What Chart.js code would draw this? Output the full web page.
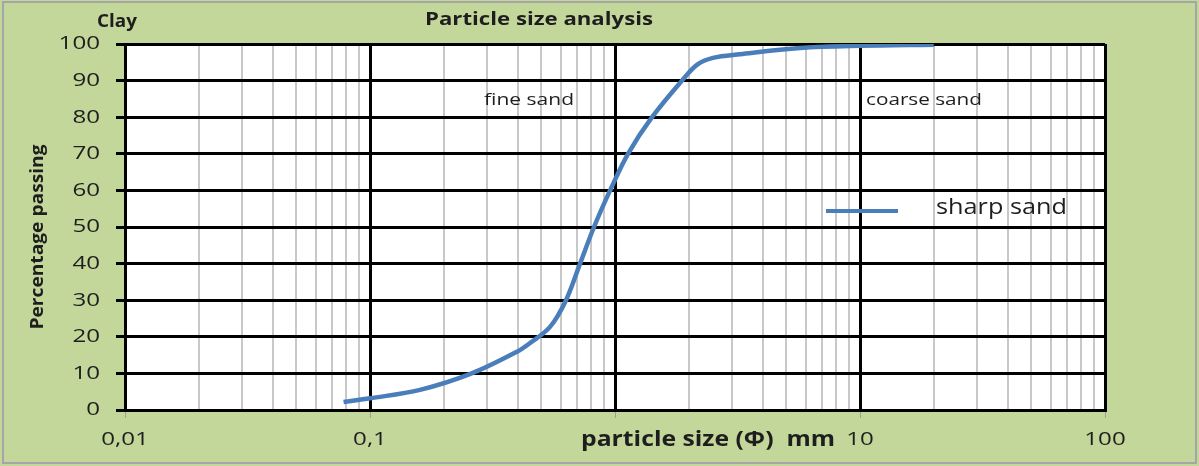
<!DOCTYPE html>
<html>
<head>
<meta charset="utf-8">
<script src="https://cdn.jsdelivr.net/npm/chart.js@4/dist/chart.umd.min.js"></script>
<style>
  html, body { margin: 0; padding: 0; background: #fff; }
  #wrap { width: 1199px; height: 466px; }
</style>
</head>
<body>
<div id="wrap"><canvas id="psd" width="1199" height="466"></canvas></div>
<script>
// sieve sizes (mm) and percentage passing for the sharp sand sample
const sizes = [0.078, 0.1, 0.16, 0.26, 0.4, 0.45, 0.543, 0.631, 0.72, 0.821, 0.955, 1.13, 1.416, 1.877, 2.16, 2.51, 3.24, 5.7, 10, 20];
const passing = [2.2, 3.2, 5.5, 10, 16, 18.3, 22.7, 30, 40, 50, 60, 70, 80, 90, 94.3, 96.2, 97.2, 98.9, 99.5, 99.8];

const seriesName = 'sharp sand';
const decades = [0.01, 0.1, 1, 10, 100];
const decadeLabels = ['0,01', '0,1', '', '10', '100'];
const yTicks = [0, 10, 20, 30, 40, 50, 60, 70, 80, 90, 100];

const FONT = '"Open Sans", "Liberation Sans", sans-serif';
const lineColor = '#4a7ebb';
const textColor = '#1e1e1e';

function isDecade(v) {
  return decades.some(d => Math.abs(v / d - 1) < 1e-6);
}

// text drawn with a horizontal stretch so it spans the given width
function wideText(c, str, x, y, font, width, align) {
  c.save();
  c.font = font;
  const w = c.measureText(str).width;
  const sx = width ? width / w : 1;
  c.translate(x, y);
  c.scale(sx, 1);
  c.textAlign = align || 'left';
  c.textBaseline = 'middle';
  c.fillStyle = textColor;
  c.fillText(str, 0, 0);
  c.restore();
}

// background frame, tick labels, titles, zone names and the legend
const decor = {
  id: 'decor',
  beforeDraw(chart) {
    const c = chart.ctx;
    c.save();
    c.fillStyle = '#c4d79b';
    c.fillRect(0, 0, chart.width, chart.height);
    c.strokeStyle = '#a6a6a6';
    c.lineWidth = 2;
    c.strokeRect(3, 2, 1193, 461);
    c.fillStyle = '#ffffff';
    const a = chart.chartArea;
    c.fillRect(a.left, a.top, a.right - a.left, a.bottom - a.top);
    c.restore();
  },
  afterDraw(chart) {
    const c = chart.ctx;
    const xs = chart.scales.x;
    const ys = chart.scales.y;
    const tickFont = '19px ' + FONT;

    yTicks.forEach(v => {
      const s = String(v);
      c.font = tickFont;
      wideText(c, s, 100, ys.getPixelForValue(v), tickFont, c.measureText(s).width * 1.27, 'right');
    });
    decades.forEach((d, i) => {
      const s = decadeLabels[i];
      if (!s) return;
      c.font = tickFont;
      wideText(c, s, xs.getPixelForValue(d), 440, tickFont, c.measureText(s).width * 1.27, 'center');
    });

    wideText(c, 'Clay', 97, 22, 'bold 17px ' + FONT, 40);
    wideText(c, 'Particle size analysis', 425, 20, 'bold 18px ' + FONT, 228);
    wideText(c, 'fine sand', 484, 100, '17px ' + FONT, 90);
    wideText(c, 'coarse sand', 866, 100, '17px ' + FONT, 116);
    wideText(c, 'particle size (\u03A6)  mm', 708, 440, 'bold 21px ' + FONT, 254, 'center');

    c.save();
    c.translate(38, 237);
    c.rotate(-Math.PI / 2);
    wideText(c, 'Percentage passing', 0, 0, 'bold 18px ' + FONT, 185, 'center');
    c.restore();

    // legend
    c.save();
    c.strokeStyle = lineColor;
    c.lineWidth = 4;
    c.beginPath();
    c.moveTo(826, 211);
    c.lineTo(898, 211);
    c.stroke();
    c.restore();
    wideText(c, seriesName, 936, 208, '22px ' + FONT, 131);
  }
};

new Chart(document.getElementById('psd'), {
  type: 'scatter',
  data: {
    datasets: [{
      label: seriesName,
      data: sizes.map((s, i) => ({ x: s, y: passing[i] })),
      showLine: true,
      borderColor: lineColor,
      backgroundColor: lineColor,
      borderWidth: 4.5,
      pointRadius: 0,
      tension: 0.35
    }]
  },
  options: {
    responsive: false,
    animation: false,
    layout: { padding: { left: 0, top: 44, right: 94, bottom: 0 } },
    plugins: {
      legend: { display: false },
      tooltip: { enabled: false }
    },
    scales: {
      x: {
        type: 'logarithmic',
        min: 0.01,
        max: 100,
        afterFit(scale) { scale.height = 56; },
        afterBuildTicks(scale) {
          const t = [];
          decades.forEach((d, i) => {
            if (i === decades.length - 1) { t.push({ value: d }); return; }
            for (let k = 1; k < 10; k++) t.push({ value: d * k });
          });
          scale.ticks = t;
        },
        border: { display: true, color: '#000', width: 3 },
        grid: {
          color: ctx => isDecade(ctx.tick.value) ? '#000' : '#c8c8c8',
          lineWidth: ctx => isDecade(ctx.tick.value) ? 3 : 2,
          tickColor: ctx => isDecade(ctx.tick.value) ? '#a0a0a0' : 'rgba(0,0,0,0)',
          tickWidth: 1,
          tickLength: 8
        },
        ticks: { display: false, autoSkip: false }
      },
      y: {
        min: 0,
        max: 100,
        afterFit(scale) { scale.width = 125; },
        afterBuildTicks(scale) { scale.ticks = yTicks.map(v => ({ value: v })); },
        border: { display: true, color: '#000', width: 3 },
        grid: {
          color: '#000',
          lineWidth: 3,
          tickColor: '#000',
          tickLength: 9
        },
        ticks: { display: false }
      }
    }
  },
  plugins: [decor]
});
</script>
</body>
</html>
